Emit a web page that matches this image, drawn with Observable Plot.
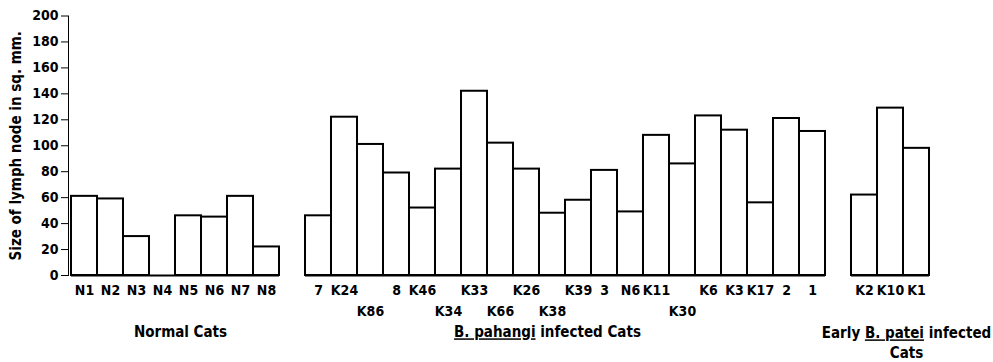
<!DOCTYPE html>
<html><head><meta charset="utf-8">
<script src="https://cdn.jsdelivr.net/npm/d3@7"></script>
<script src="https://cdn.jsdelivr.net/npm/@observablehq/plot@0.6"></script>
<style>
body{margin:0;background:#fff}
.u{text-decoration:underline;text-decoration-thickness:2px;text-underline-offset:3px}
</style>
</head><body><div id="chart"></div>
<script>
const normalLabels = ["N1","N2","N3","N4","N5","N6","N7","N8"];
const normalValues = [61,59,30,0,46,45,61,22];
const pahangiLabels = ["7","K24","K86","8","K46","K34","K33","K66","K26","K38","K39","3","N6","K11","K30","K6","K3","K17","2","1"];
const pahangiValues = [46,122,101,79,52,82,142,102,82,48,58,81,49,108,86,123,112,56,121,111];
const pateiLabels = ["K2","K10","K1"];
const pateiValues = [62,129,98];
const lowerRowLabels = ["K86","K34","K66","K38","K30"];
const yTicks = [0,20,40,60,80,100,120,140,160,180,200];
const yLabel = "Size of lymph node in sq. mm.";
const groupTitles = ["Normal Cats","B. pahangi infected Cats","Early B. patei infected\nCats"];
const underlined = ["B. pahangi","B. patei"];

const rows = [];
function addGroup(g, labels, values){
  labels.forEach((l,i)=>rows.push({id:g+":"+l, label:l, value:values[i], group:g, lower:lowerRowLabels.includes(l) && g==="pahangi"}));
}
addGroup("normal", normalLabels, normalValues);
addGroup("pahangi", pahangiLabels, pahangiValues);
addGroup("patei", pateiLabels, pateiValues);
const ids = g => rows.filter(r=>r.group===g).map(r=>r.id);
const domain = [...ids("normal"), "gap1", ...ids("pahangi"), "gap2", ...ids("patei")];

const font = '"DejaVu Sans Condensed","Liberation Sans Narrow",sans-serif';
const chart = Plot.plot({
  width: 993, height: 362,
  marginTop: 15.5, marginBottom: 87, marginLeft: 68, marginRight: 61,
  style: {fontFamily: font, fontWeight: "bold", fontSize: "14px", color:"#000", background:"#fff"},
  x: {domain, padding: 0, axis: null},
  y: {domain: [0,200], ticks: yTicks, tickSize: 7, tickPadding: 3, line: true, label: null},
  marks: [
    Plot.barY(rows, {x:"id", y:"value", fill:"white", stroke:"black", strokeWidth:2}),
    Plot.tickY(rows, {x:"id", y:()=>0, stroke:"black", strokeWidth:2}),
    Plot.text(rows.filter(r=>!r.lower), {x:"id", y:0, text:"label", dy:15, fontSize:14}),
    Plot.text(rows.filter(r=>r.lower), {x:"id", y:0, text:"label", dy:36, fontSize:14}),
    Plot.text([groupTitles[0]], {x:()=>"normal:N4", y:()=>0, text:d=>d, dy:57, dx:18, fontSize:15}),
    Plot.text([groupTitles[1]], {x:()=>"pahangi:K38", y:()=>0, text:d=>d, dy:57, dx:-5, fontSize:15}),
    Plot.text([groupTitles[2]], {x:()=>"patei:K10", y:()=>0, text:d=>d, dy:49, dx:16, fontSize:15, lineHeight:1.3, lineAnchor:"top"}),
    Plot.text([yLabel], {frameAnchor:"left", textAnchor:"middle", dx:-52, rotate:-90, fontSize:15})
  ]
});
// underline species names
d3.select(chart).selectAll("text, tspan").each(function(){
  if (this.children.length) return;
  const t = this.textContent;
  const u = underlined.find(s=>t.includes(s));
  if (!u) return;
  const [a,b] = t.split(u);
  this.textContent = "";
  const ns = "http://www.w3.org/2000/svg";
  this.appendChild(document.createTextNode(a));
  const ts = document.createElementNS(ns,"tspan");
  ts.setAttribute("class","u");
  ts.textContent = u;
  this.appendChild(ts);
  this.appendChild(document.createTextNode(b));
});
document.getElementById("chart").appendChild(chart);
</script>
</body></html>
